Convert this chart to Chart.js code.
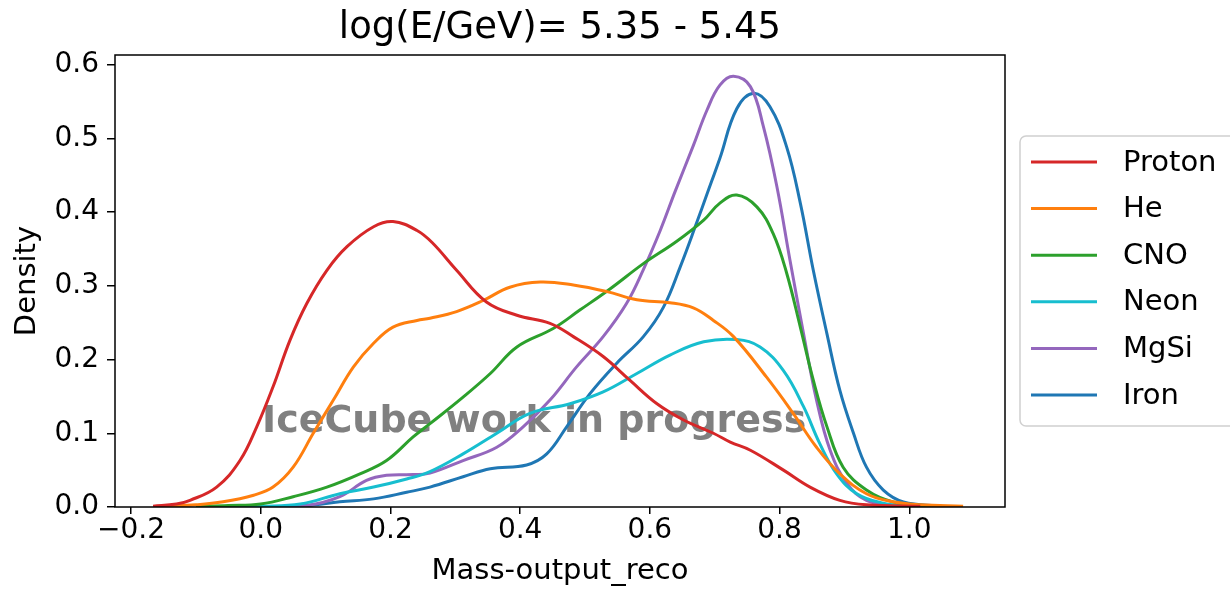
<!DOCTYPE html>
<html>
<head>
<meta charset="utf-8">
<script src="https://cdn.jsdelivr.net/npm/chart.js@4.4.1/dist/chart.umd.min.js"></script>
<style>
  html, body { margin: 0; padding: 0; background: #fff; }
  #wrap { width: 1230px; height: 590px; }
</style>
</head>
<body>
<div id="wrap"><canvas id="kdeChart" width="1230" height="590"></canvas></div>
<script>
// KDE curves, per particle type
const protonX = [-0.166, -0.13, -0.109, -0.068, -0.032, -0.006, 0.019, 0.045, 0.071, 0.102, 0.133, 0.174, 0.204, 0.241, 0.265, 0.302, 0.348, 0.395, 0.446, 0.482, 0.528, 0.569, 0.611, 0.652, 0.698, 0.724, 0.755, 0.806, 0.847, 0.893, 0.934, 1.017];
const protonY = [0.001, 0.004, 0.009, 0.027, 0.063, 0.109, 0.163, 0.226, 0.276, 0.321, 0.353, 0.380, 0.387, 0.375, 0.358, 0.321, 0.278, 0.260, 0.249, 0.231, 0.204, 0.172, 0.140, 0.118, 0.100, 0.088, 0.077, 0.050, 0.027, 0.009, 0.003, 0.001];

const heX = [-0.15, -0.10, -0.058, -0.011, 0.019, 0.050, 0.081, 0.112, 0.143, 0.174, 0.204, 0.241, 0.261, 0.302, 0.343, 0.384, 0.431, 0.482, 0.534, 0.580, 0.631, 0.667, 0.698, 0.729, 0.780, 0.821, 0.857, 0.893, 0.934, 0.975, 1.017, 1.083];
const heY = [0.001, 0.003, 0.007, 0.016, 0.027, 0.054, 0.100, 0.145, 0.190, 0.222, 0.244, 0.253, 0.256, 0.265, 0.280, 0.298, 0.305, 0.301, 0.292, 0.281, 0.277, 0.270, 0.253, 0.231, 0.176, 0.127, 0.081, 0.045, 0.018, 0.007, 0.003, 0.001];

const cnoX = [-0.10, -0.05, 0.000, 0.050, 0.102, 0.153, 0.194, 0.235, 0.261, 0.312, 0.354, 0.395, 0.451, 0.492, 0.539, 0.590, 0.641, 0.683, 0.708, 0.734, 0.765, 0.790, 0.811, 0.832, 0.852, 0.873, 0.898, 0.934, 0.975, 1.04];
const cnoY = [0.001, 0.002, 0.004, 0.014, 0.027, 0.045, 0.063, 0.095, 0.113, 0.149, 0.181, 0.217, 0.242, 0.267, 0.296, 0.330, 0.360, 0.389, 0.412, 0.423, 0.407, 0.371, 0.317, 0.244, 0.172, 0.109, 0.054, 0.023, 0.007, 0.001];

const neonX = [-0.05, 0.0, 0.061, 0.122, 0.174, 0.225, 0.261, 0.312, 0.364, 0.415, 0.477, 0.528, 0.580, 0.631, 0.683, 0.734, 0.770, 0.806, 0.837, 0.862, 0.888, 0.919, 0.960, 1.00];
const neonY = [0.000, 0.001, 0.004, 0.018, 0.027, 0.038, 0.048, 0.072, 0.100, 0.127, 0.140, 0.156, 0.181, 0.206, 0.224, 0.227, 0.217, 0.185, 0.136, 0.086, 0.045, 0.018, 0.005, 0.001];

const mgsiX = [0.0, 0.071, 0.122, 0.163, 0.194, 0.235, 0.261, 0.312, 0.364, 0.405, 0.446, 0.487, 0.528, 0.564, 0.590, 0.616, 0.639, 0.667, 0.688, 0.708, 0.729, 0.755, 0.775, 0.796, 0.816, 0.837, 0.857, 0.878, 0.904, 0.934, 0.98];
const mgsiY = [0.000, 0.002, 0.014, 0.036, 0.043, 0.044, 0.046, 0.063, 0.081, 0.109, 0.145, 0.190, 0.231, 0.276, 0.322, 0.375, 0.428, 0.490, 0.538, 0.572, 0.584, 0.570, 0.516, 0.434, 0.335, 0.235, 0.145, 0.077, 0.032, 0.009, 0.001];

const ironX = [0.0, 0.071, 0.122, 0.174, 0.225, 0.261, 0.312, 0.354, 0.410, 0.441, 0.472, 0.508, 0.549, 0.590, 0.621, 0.647, 0.672, 0.688, 0.708, 0.734, 0.760, 0.785, 0.811, 0.832, 0.852, 0.873, 0.893, 0.914, 0.934, 0.960, 0.991, 1.05];
const ironY = [0.000, 0.002, 0.007, 0.011, 0.020, 0.027, 0.041, 0.052, 0.057, 0.072, 0.109, 0.154, 0.195, 0.231, 0.271, 0.326, 0.385, 0.424, 0.473, 0.540, 0.561, 0.543, 0.488, 0.412, 0.321, 0.235, 0.158, 0.100, 0.054, 0.023, 0.007, 0.001];

const seriesNames = ['Proton', 'He', 'CNO', 'Neon', 'MgSi', 'Iron'];
const seriesColors = ['#d62728', '#ff7f0e', '#2ca02c', '#17becf', '#9467bd', '#1f77b4'];
const seriesX = [protonX, heX, cnoX, neonX, mgsiX, ironX];
const seriesY = [protonY, heY, cnoY, neonY, mgsiY, ironY];

const FONT = "'DejaVu Sans', 'Liberation Sans', sans-serif";

function toPoints(xs, ys) {
    return xs.map((x, i) => ({ x: x, y: ys[i] }));
}

// title, frame, watermark and boxed legend (matplotlib look)
const extras = {
    id: 'extras',
    beforeDatasetsDraw(chart) {
        const ctx = chart.ctx;
        ctx.save();
        ctx.font = 'bold 38px ' + FONT;
        ctx.fillStyle = '#808080';
        ctx.textAlign = 'left';
        ctx.textBaseline = 'alphabetic';
        ctx.fillText('IceCube work in progress', 262, 432);
        ctx.restore();
    },
    afterDraw(chart) {
        const ctx = chart.ctx;
        const a = chart.chartArea;
        ctx.save();
        ctx.strokeStyle = '#000';
        ctx.lineWidth = 1.5;
        ctx.strokeRect(a.left, a.top, a.right - a.left, a.bottom - a.top);

        ctx.font = '37px ' + FONT;
        ctx.fillStyle = '#000';
        ctx.textAlign = 'center';
        ctx.textBaseline = 'middle';
        ctx.fillText('log(E/GeV)= 5.35 - 5.45', (a.left + a.right) / 2, 28);

        // legend box
        const bx = 1020, by = 136, bw = 240, bh = 290, r = 6;
        ctx.beginPath();
        ctx.moveTo(bx + r, by);
        ctx.lineTo(bx + bw - r, by);
        ctx.arcTo(bx + bw, by, bx + bw, by + r, r);
        ctx.lineTo(bx + bw, by + bh - r);
        ctx.arcTo(bx + bw, by + bh, bx + bw - r, by + bh, r);
        ctx.lineTo(bx + r, by + bh);
        ctx.arcTo(bx, by + bh, bx, by + bh - r, r);
        ctx.lineTo(bx, by + r);
        ctx.arcTo(bx, by, bx + r, by, r);
        ctx.closePath();
        ctx.fillStyle = 'rgba(255,255,255,0.8)';
        ctx.fill();
        ctx.strokeStyle = '#d0d0d0';
        ctx.lineWidth = 1.5;
        ctx.stroke();

        ctx.font = '29px ' + FONT;
        ctx.textAlign = 'left';
        ctx.textBaseline = 'middle';
        seriesNames.forEach((name, i) => {
            const y = 162 + i * 46.6;
            ctx.strokeStyle = seriesColors[i];
            ctx.lineWidth = 3;
            ctx.beginPath();
            ctx.moveTo(1031, y);
            ctx.lineTo(1097, y);
            ctx.stroke();
            ctx.fillStyle = '#000';
            ctx.fillText(name, 1123, y + 1);
        });
        ctx.restore();
    }
};

const ctx = document.getElementById('kdeChart').getContext('2d');
new Chart(ctx, {
    type: 'line',
    data: {
        datasets: seriesNames.map((name, i) => ({
            label: name,
            data: toPoints(seriesX[i], seriesY[i]),
            borderColor: seriesColors[i],
            backgroundColor: seriesColors[i],
            borderWidth: 3,
            pointRadius: 0,
            fill: false,
            tension: 0.4
        }))
    },
    options: {
        responsive: false,
        animation: false,
        layout: { padding: { left: 0, right: 225, top: 55, bottom: 0 } },
        scales: {
            x: {
                type: 'linear',
                min: -0.2247,
                max: 1.1476,
                border: { display: false },
                grid: { drawOnChartArea: false, drawTicks: true, tickLength: 7, color: '#000', lineWidth: 1.5 },
                ticks: {
                    stepSize: 0.2,
                    includeBounds: false,
                    padding: 0,
                    color: '#000',
                    font: { family: FONT, size: 28 },
                    maxRotation: 0,
                    callback: v => v.toFixed(1).replace('-', '\u2212')
                },
                title: {
                    display: true,
                    text: 'Mass-output_reco',
                    color: '#000',
                    font: { family: FONT, size: 29 },
                    padding: { top: 0, bottom: 1 }
                },
                afterFit: s => { s.height = 83; }
            },
            y: {
                type: 'linear',
                min: 0,
                max: 0.6129,
                border: { display: false },
                grid: { drawOnChartArea: false, drawTicks: true, tickLength: 8, color: '#000', lineWidth: 1.5 },
                ticks: {
                    stepSize: 0.1,
                    includeBounds: false,
                    padding: 8,
                    color: '#000',
                    font: { family: FONT, size: 28 },
                    callback: v => v.toFixed(1)
                },
                title: {
                    display: true,
                    text: 'Density',
                    color: '#000',
                    font: { family: FONT, size: 29 },
                    padding: { top: 10, bottom: 0 }
                },
                afterFit: s => { s.width = 115; }
            }
        },
        plugins: {
            legend: { display: false },
            tooltip: { enabled: false },
            title: { display: false }
        }
    },
    plugins: [extras]
});
</script>
</body>
</html>
